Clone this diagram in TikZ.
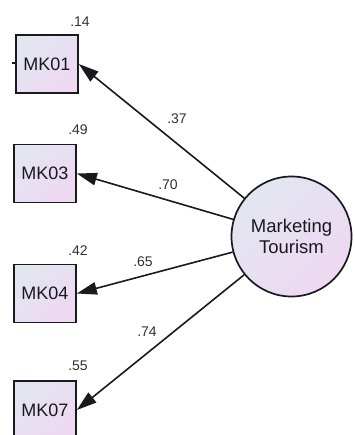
\documentclass[tikz,border=0pt]{standalone}
\usepackage{fontspec}
\setmainfont{Liberation Sans}
\usetikzlibrary{arrows.meta}
\definecolor{fillA}{RGB}{226,230,240}
\definecolor{fillB}{RGB}{238,216,242}
\definecolor{ink}{RGB}{25,25,30}
\tikzset{
  indbox/.style={draw=ink, line width=1.7pt, minimum width=62pt, minimum height=58pt,
    inner sep=0pt, top color=fillA, bottom color=fillB, shading angle=45,
    font=\fontsize{18}{18}\selectfont, text=ink},
  latent/.style={circle, draw=ink, line width=1.7pt, minimum size=120pt, inner sep=0pt,
    top color=fillA, bottom color=fillB, shading angle=45, align=center,
    font=\fontsize{18.5}{21}\selectfont, text=ink},
  est/.style={font=\fontsize{14}{14}\selectfont, text=ink!90, inner sep=0pt},
  load/.style={-{Triangle[length=20pt,width=12.5pt]}, line width=1.6pt, draw=ink},
}
\begin{document}
\begin{tikzpicture}[x=1pt,y=-1pt]
  \useasboundingbox[fill=white] (0,0) rectangle (354,435);

  % observed indicators
  \node[indbox] (mk01) at (47,64)    {MK01};
  \node[indbox] (mk03) at (45,173.5) {MK03};
  \node[indbox] (mk04) at (45,293.5) {MK04};
  \node[indbox] (mk07) at (45,410)   {MK07};

  % latent construct
  \node[latent] (mt) at (291.5,236.5) {Marketing\\Tourism};

  % squared multiple correlations
  \node[est] (r01) at (80,22)  {.14};
  \node[est] (r03) at (78,130) {.49};
  \node[est] (r04) at (78,251) {.42};
  \node[est] (r07) at (78,366) {.55};

  % factor loadings
  \draw[load] (mt) -- (mk01.east);
  \draw[load] (mt) -- (mk03.east);
  \draw[load] (mt) -- (mk04.east);
  \draw[load] (mt) -- (mk07.east);

  \node[est] (l01) at (177,119) {.37};
  \node[est] (l03) at (168,185) {.70};
  \node[est] (l04) at (143,262) {.65};
  \node[est] (l07) at (147,332) {.74};

  % short stub on the left of MK01
  \coordinate (stub) at (12,63);
  \draw[line width=1.4pt, draw=ink] (stub) -- (mk01.west |- stub);
\end{tikzpicture}
\end{document}
